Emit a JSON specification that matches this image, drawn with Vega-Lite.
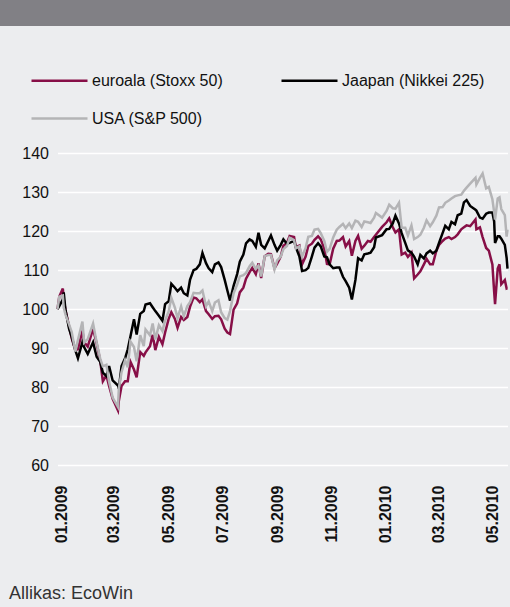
{
  "$schema": "https://vega.github.io/schema/vega-lite/v6.json",
  "width": 510,
  "height": 581,
  "autosize": {"type": "none"},
  "padding": {"left": 0, "top": 26, "right": 0, "bottom": 0},
  "background": "#818085",
  "config": {
    "view": {"fill": "#ecedef", "stroke": null},
    "font": "Liberation Sans"
  },
  "title": {
    "text": "Allikas: EcoWin",
    "orient": "bottom",
    "anchor": "start",
    "frame": "group",
    "offset": -8,
    "dx": 9,
    "fontSize": 18,
    "fontWeight": "normal",
    "color": "#333333",
    "baseline": "alphabetic"
  },
  "data": {
    "format": {"parse": {"d": "date:'%Y-%m-%d'"}},
    "values": [
{"d":"2008-12-31","s":"E","v":100},{"d":"2008-12-31","s":"J","v":100},{"d":"2008-12-31","s":"U","v":100},
{"d":"2009-01-02","s":"E","v":103.2},{"d":"2009-01-02","s":"J","v":100.8},{"d":"2009-01-02","s":"U","v":103.2},
{"d":"2009-01-06","s":"E","v":105.3},{"d":"2009-01-06","s":"J","v":102.5},{"d":"2009-01-06","s":"U","v":103.5},
{"d":"2009-01-07","s":"E","v":102.5},{"d":"2009-01-07","s":"J","v":104.3},{"d":"2009-01-07","s":"U","v":100.4},
{"d":"2009-01-09","s":"E","v":99.8},{"d":"2009-01-09","s":"J","v":99.7},{"d":"2009-01-09","s":"U","v":98.6},
{"d":"2009-01-13","s":"E","v":95.6},{"d":"2009-01-13","s":"J","v":95.0},{"d":"2009-01-13","s":"U","v":96.1},
{"d":"2009-01-16","s":"E","v":92.5},{"d":"2009-01-16","s":"J","v":92.9},{"d":"2009-01-16","s":"U","v":94.1},
{"d":"2009-01-20","s":"E","v":89.5},{"d":"2009-01-20","s":"J","v":89.5},{"d":"2009-01-20","s":"U","v":89.1},
{"d":"2009-01-23","s":"E","v":89.7},{"d":"2009-01-23","s":"J","v":87.4},{"d":"2009-01-23","s":"U","v":92.1},
{"d":"2009-01-28","s":"E","v":94.5},{"d":"2009-01-28","s":"J","v":91.5},{"d":"2009-01-28","s":"U","v":96.8},
{"d":"2009-01-30","s":"E","v":91.5},{"d":"2009-01-30","s":"J","v":90.2},{"d":"2009-01-30","s":"U","v":91.4},
{"d":"2009-02-03","s":"E","v":90.4},{"d":"2009-02-03","s":"J","v":88.5},{"d":"2009-02-03","s":"U","v":92.3},
{"d":"2009-02-09","s":"E","v":95.0},{"d":"2009-02-09","s":"J","v":91.5},{"d":"2009-02-09","s":"U","v":96.3},
{"d":"2009-02-13","s":"E","v":91.2},{"d":"2009-02-13","s":"J","v":87.8},{"d":"2009-02-13","s":"U","v":91.5},
{"d":"2009-02-17","s":"E","v":86.8},{"d":"2009-02-17","s":"J","v":86.5},{"d":"2009-02-17","s":"U","v":87.3},
{"d":"2009-02-20","s":"E","v":81.5},{"d":"2009-02-20","s":"J","v":83.7},{"d":"2009-02-20","s":"U","v":85.3},
{"d":"2009-02-24","s":"E","v":83.0},{"d":"2009-02-24","s":"J","v":82.8},{"d":"2009-02-24","s":"U","v":85.7},
{"d":"2009-02-27","s":"E","v":80.3},{"d":"2009-02-27","s":"J","v":85.4},{"d":"2009-02-27","s":"U","v":81.4},
{"d":"2009-03-03","s":"E","v":77.0},{"d":"2009-03-03","s":"J","v":81.7},{"d":"2009-03-03","s":"U","v":77.3},
{"d":"2009-03-09","s":"E","v":74.0},{"d":"2009-03-09","s":"J","v":80.4},{"d":"2009-03-09","s":"U","v":74.9},
{"d":"2009-03-10","s":"E","v":76.5},{"d":"2009-03-10","s":"J","v":79.6},{"d":"2009-03-10","s":"U","v":79.7},
{"d":"2009-03-13","s":"E","v":80.3},{"d":"2009-03-13","s":"J","v":85.4},{"d":"2009-03-13","s":"U","v":83.8},
{"d":"2009-03-17","s":"E","v":81.5},{"d":"2009-03-17","s":"J","v":87.4},{"d":"2009-03-17","s":"U","v":86.9},
{"d":"2009-03-20","s":"E","v":81.5},{"d":"2009-03-20","s":"J","v":89.7},{"d":"2009-03-20","s":"U","v":85.1},
{"d":"2009-03-23","s":"E","v":86.5},{"d":"2009-03-23","s":"J","v":93.0},{"d":"2009-03-23","s":"U","v":91.7},
{"d":"2009-03-27","s":"E","v":84.5},{"d":"2009-03-27","s":"J","v":97.4},{"d":"2009-03-27","s":"U","v":90.3},
{"d":"2009-03-30","s":"E","v":82.5},{"d":"2009-03-30","s":"J","v":93.5},{"d":"2009-03-30","s":"U","v":86.6},
{"d":"2009-04-03","s":"E","v":89.0},{"d":"2009-04-03","s":"J","v":98.8},{"d":"2009-04-03","s":"U","v":93.3},
{"d":"2009-04-07","s":"E","v":88.0},{"d":"2009-04-07","s":"J","v":99.5},{"d":"2009-04-07","s":"U","v":90.5},
{"d":"2009-04-09","s":"E","v":88.9},{"d":"2009-04-09","s":"J","v":101.2},{"d":"2009-04-09","s":"U","v":94.8},
{"d":"2009-04-14","s":"E","v":90.5},{"d":"2009-04-14","s":"J","v":101.5},{"d":"2009-04-14","s":"U","v":93.3},
{"d":"2009-04-17","s":"E","v":93.4},{"d":"2009-04-17","s":"J","v":100.5},{"d":"2009-04-17","s":"U","v":96.3},
{"d":"2009-04-20","s":"E","v":89.5},{"d":"2009-04-20","s":"J","v":99.5},{"d":"2009-04-20","s":"U","v":92.2},
{"d":"2009-04-24","s":"E","v":92.9},{"d":"2009-04-24","s":"J","v":98.3},{"d":"2009-04-24","s":"U","v":95.9},
{"d":"2009-04-28","s":"E","v":91.0},{"d":"2009-04-28","s":"J","v":97.0},{"d":"2009-04-28","s":"U","v":94.4},
{"d":"2009-05-01","s":"E","v":94.0},{"d":"2009-05-01","s":"J","v":101.3},{"d":"2009-05-01","s":"U","v":97.1},
{"d":"2009-05-05","s":"E","v":97.5},{"d":"2009-05-05","s":"J","v":102.0},{"d":"2009-05-05","s":"U","v":99.4},
{"d":"2009-05-08","s":"E","v":99.2},{"d":"2009-05-08","s":"J","v":106.5},{"d":"2009-05-08","s":"U","v":102.9},
{"d":"2009-05-12","s":"E","v":97.5},{"d":"2009-05-12","s":"J","v":105.5},{"d":"2009-05-12","s":"U","v":100.4},
{"d":"2009-05-15","s":"E","v":95.2},{"d":"2009-05-15","s":"J","v":104.6},{"d":"2009-05-15","s":"U","v":97.7},
{"d":"2009-05-19","s":"E","v":98.0},{"d":"2009-05-19","s":"J","v":105.5},{"d":"2009-05-19","s":"U","v":100.7},
{"d":"2009-05-22","s":"E","v":97.2},{"d":"2009-05-22","s":"J","v":104.1},{"d":"2009-05-22","s":"U","v":98.2},
{"d":"2009-05-26","s":"E","v":98.0},{"d":"2009-05-26","s":"J","v":103.5},{"d":"2009-05-26","s":"U","v":100.8},
{"d":"2009-05-29","s":"E","v":100.6},{"d":"2009-05-29","s":"J","v":107.5},{"d":"2009-05-29","s":"U","v":101.8},
{"d":"2009-06-02","s":"E","v":103.0},{"d":"2009-06-02","s":"J","v":110.0},{"d":"2009-06-02","s":"U","v":104.2},
{"d":"2009-06-05","s":"E","v":102.8},{"d":"2009-06-05","s":"J","v":110.3},{"d":"2009-06-05","s":"U","v":104.1},
{"d":"2009-06-09","s":"E","v":101.8},{"d":"2009-06-09","s":"J","v":111.5},{"d":"2009-06-09","s":"U","v":104.1},
{"d":"2009-06-12","s":"E","v":102.5},{"d":"2009-06-12","s":"J","v":114.4},{"d":"2009-06-12","s":"U","v":104.8},
{"d":"2009-06-16","s":"E","v":99.5},{"d":"2009-06-16","s":"J","v":111.8},{"d":"2009-06-16","s":"U","v":100.8},
{"d":"2009-06-19","s":"E","v":98.7},{"d":"2009-06-19","s":"J","v":110.5},{"d":"2009-06-19","s":"U","v":102.0},
{"d":"2009-06-23","s":"E","v":97.5},{"d":"2009-06-23","s":"J","v":109.5},{"d":"2009-06-23","s":"U","v":99.5},
{"d":"2009-06-26","s":"E","v":98.2},{"d":"2009-06-26","s":"J","v":111.5},{"d":"2009-06-26","s":"U","v":101.7},
{"d":"2009-06-30","s":"E","v":98.3},{"d":"2009-06-30","s":"J","v":112.0},{"d":"2009-06-30","s":"U","v":102.3},
{"d":"2009-07-03","s":"E","v":97.4},{"d":"2009-07-03","s":"J","v":110.8},{"d":"2009-07-03","s":"U","v":99.2},
{"d":"2009-07-07","s":"E","v":95.0},{"d":"2009-07-07","s":"J","v":107.5},{"d":"2009-07-07","s":"U","v":97.7},
{"d":"2009-07-10","s":"E","v":94.0},{"d":"2009-07-10","s":"J","v":104.8},{"d":"2009-07-10","s":"U","v":97.3},
{"d":"2009-07-13","s":"E","v":93.6},{"d":"2009-07-13","s":"J","v":102.2},{"d":"2009-07-13","s":"U","v":99.5},
{"d":"2009-07-17","s":"E","v":99.9},{"d":"2009-07-17","s":"J","v":106.0},{"d":"2009-07-17","s":"U","v":104.1},
{"d":"2009-07-21","s":"E","v":101.5},{"d":"2009-07-21","s":"J","v":109.0},{"d":"2009-07-21","s":"U","v":106.3},
{"d":"2009-07-24","s":"E","v":104.3},{"d":"2009-07-24","s":"J","v":112.2},{"d":"2009-07-24","s":"U","v":108.4},
{"d":"2009-07-28","s":"E","v":105.5},{"d":"2009-07-28","s":"J","v":114.0},{"d":"2009-07-28","s":"U","v":108.7},
{"d":"2009-07-31","s":"E","v":107.8},{"d":"2009-07-31","s":"J","v":116.9},{"d":"2009-07-31","s":"U","v":109.3},
{"d":"2009-08-04","s":"E","v":109.5},{"d":"2009-08-04","s":"J","v":117.9},{"d":"2009-08-04","s":"U","v":111.0},
{"d":"2009-08-07","s":"E","v":110.6},{"d":"2009-08-07","s":"J","v":117.5},{"d":"2009-08-07","s":"U","v":111.9},
{"d":"2009-08-11","s":"E","v":109.0},{"d":"2009-08-11","s":"J","v":116.0},{"d":"2009-08-11","s":"U","v":110.3},
{"d":"2009-08-14","s":"E","v":111.8},{"d":"2009-08-14","s":"J","v":119.6},{"d":"2009-08-14","s":"U","v":111.2},
{"d":"2009-08-17","s":"E","v":108.0},{"d":"2009-08-17","s":"J","v":116.5},{"d":"2009-08-17","s":"U","v":108.4},
{"d":"2009-08-21","s":"E","v":113.6},{"d":"2009-08-21","s":"J","v":115.6},{"d":"2009-08-21","s":"U","v":113.6},
{"d":"2009-08-25","s":"E","v":114.2},{"d":"2009-08-25","s":"J","v":117.5},{"d":"2009-08-25","s":"U","v":113.9},
{"d":"2009-08-28","s":"E","v":114.1},{"d":"2009-08-28","s":"J","v":118.9},{"d":"2009-08-28","s":"U","v":113.9},
{"d":"2009-09-01","s":"E","v":110.5},{"d":"2009-09-01","s":"J","v":116.5},{"d":"2009-09-01","s":"U","v":110.2},
{"d":"2009-09-04","s":"E","v":111.7},{"d":"2009-09-04","s":"J","v":115.0},{"d":"2009-09-04","s":"U","v":112.5},
{"d":"2009-09-08","s":"E","v":113.5},{"d":"2009-09-08","s":"J","v":116.5},{"d":"2009-09-08","s":"U","v":113.5},
{"d":"2009-09-11","s":"E","v":116.3},{"d":"2009-09-11","s":"J","v":117.9},{"d":"2009-09-11","s":"U","v":115.4},
{"d":"2009-09-15","s":"E","v":117.0},{"d":"2009-09-15","s":"J","v":116.8},{"d":"2009-09-15","s":"U","v":116.2},
{"d":"2009-09-18","s":"E","v":118.8},{"d":"2009-09-18","s":"J","v":117.0},{"d":"2009-09-18","s":"U","v":118.3},
{"d":"2009-09-23","s":"E","v":118.5},{"d":"2009-09-23","s":"J","v":117.5},{"d":"2009-09-23","s":"U","v":117.7},
{"d":"2009-09-25","s":"E","v":115.9},{"d":"2009-09-25","s":"J","v":115.9},{"d":"2009-09-25","s":"U","v":115.6},
{"d":"2009-09-29","s":"E","v":116.3},{"d":"2009-09-29","s":"J","v":113.5},{"d":"2009-09-29","s":"U","v":116.1},
{"d":"2009-10-02","s":"E","v":111.5},{"d":"2009-10-02","s":"J","v":109.8},{"d":"2009-10-02","s":"U","v":113.5},
{"d":"2009-10-06","s":"E","v":113.5},{"d":"2009-10-06","s":"J","v":110.0},{"d":"2009-10-06","s":"U","v":115.7},
{"d":"2009-10-09","s":"E","v":116.2},{"d":"2009-10-09","s":"J","v":110.6},{"d":"2009-10-09","s":"U","v":118.6},
{"d":"2009-10-13","s":"E","v":116.8},{"d":"2009-10-13","s":"J","v":113.5},{"d":"2009-10-13","s":"U","v":118.8},
{"d":"2009-10-16","s":"E","v":117.8},{"d":"2009-10-16","s":"J","v":115.8},{"d":"2009-10-16","s":"U","v":120.4},
{"d":"2009-10-20","s":"E","v":118.7},{"d":"2009-10-20","s":"J","v":116.9},{"d":"2009-10-20","s":"U","v":120.6},
{"d":"2009-10-23","s":"E","v":117.9},{"d":"2009-10-23","s":"J","v":116.1},{"d":"2009-10-23","s":"U","v":119.5},
{"d":"2009-10-27","s":"E","v":115.5},{"d":"2009-10-27","s":"J","v":113.5},{"d":"2009-10-27","s":"U","v":117.5},
{"d":"2009-10-30","s":"E","v":111.6},{"d":"2009-10-30","s":"J","v":113.3},{"d":"2009-10-30","s":"U","v":114.7},
{"d":"2009-11-02","s":"E","v":111.5},{"d":"2009-11-02","s":"J","v":111.5},{"d":"2009-11-02","s":"U","v":115.5},
{"d":"2009-11-06","s":"E","v":115.5},{"d":"2009-11-06","s":"J","v":110.5},{"d":"2009-11-06","s":"U","v":118.4},
{"d":"2009-11-10","s":"E","v":117.5},{"d":"2009-11-10","s":"J","v":110.7},{"d":"2009-11-10","s":"U","v":120.4},
{"d":"2009-11-13","s":"E","v":117.6},{"d":"2009-11-13","s":"J","v":110.7},{"d":"2009-11-13","s":"U","v":121.1},
{"d":"2009-11-17","s":"E","v":118.5},{"d":"2009-11-17","s":"J","v":108.3},{"d":"2009-11-17","s":"U","v":121.9},
{"d":"2009-11-20","s":"E","v":116.1},{"d":"2009-11-20","s":"J","v":107.2},{"d":"2009-11-20","s":"U","v":120.8},
{"d":"2009-11-24","s":"E","v":117.5},{"d":"2009-11-24","s":"J","v":105.5},{"d":"2009-11-24","s":"U","v":122.0},
{"d":"2009-11-27","s":"E","v":113.7},{"d":"2009-11-27","s":"J","v":102.5},{"d":"2009-11-27","s":"U","v":120.8},
{"d":"2009-12-01","s":"E","v":117.5},{"d":"2009-12-01","s":"J","v":107.5},{"d":"2009-12-01","s":"U","v":122.7},
{"d":"2009-12-04","s":"E","v":118.8},{"d":"2009-12-04","s":"J","v":113.1},{"d":"2009-12-04","s":"U","v":122.4},
{"d":"2009-12-08","s":"E","v":115.5},{"d":"2009-12-08","s":"J","v":112.5},{"d":"2009-12-08","s":"U","v":121.1},
{"d":"2009-12-11","s":"E","v":116.3},{"d":"2009-12-11","s":"J","v":114.1},{"d":"2009-12-11","s":"U","v":122.5},
{"d":"2009-12-15","s":"E","v":117.5},{"d":"2009-12-15","s":"J","v":114.3},{"d":"2009-12-15","s":"U","v":122.3},
{"d":"2009-12-18","s":"E","v":117.3},{"d":"2009-12-18","s":"J","v":114.5},{"d":"2009-12-18","s":"U","v":122.1},
{"d":"2009-12-22","s":"E","v":118.5},{"d":"2009-12-22","s":"J","v":115.9},{"d":"2009-12-22","s":"U","v":123.5},
{"d":"2009-12-24","s":"E","v":119.1},{"d":"2009-12-24","s":"J","v":118.4},{"d":"2009-12-24","s":"U","v":124.7},
{"d":"2009-12-31","s":"E","v":121.1},{"d":"2009-12-31","s":"J","v":119.0},{"d":"2009-12-31","s":"U","v":123.5},
{"d":"2010-01-05","s":"E","v":122.3},{"d":"2010-01-05","s":"J","v":120.5},{"d":"2010-01-05","s":"U","v":125.2},
{"d":"2010-01-08","s":"E","v":123.3},{"d":"2010-01-08","s":"J","v":120.6},{"d":"2010-01-08","s":"U","v":126.8},
{"d":"2010-01-12","s":"E","v":121.0},{"d":"2010-01-12","s":"J","v":122.0},{"d":"2010-01-12","s":"U","v":125.9},
{"d":"2010-01-15","s":"E","v":119.7},{"d":"2010-01-15","s":"J","v":124.0},{"d":"2010-01-15","s":"U","v":125.8},
{"d":"2010-01-19","s":"E","v":120.5},{"d":"2010-01-19","s":"J","v":122.0},{"d":"2010-01-19","s":"U","v":127.3},
{"d":"2010-01-22","s":"E","v":114.0},{"d":"2010-01-22","s":"J","v":119.5},{"d":"2010-01-22","s":"U","v":120.9},
{"d":"2010-01-26","s":"E","v":114.5},{"d":"2010-01-26","s":"J","v":117.0},{"d":"2010-01-26","s":"U","v":120.9},
{"d":"2010-01-29","s":"E","v":113.4},{"d":"2010-01-29","s":"J","v":115.1},{"d":"2010-01-29","s":"U","v":118.9},
{"d":"2010-02-02","s":"E","v":114.5},{"d":"2010-02-02","s":"J","v":114.5},{"d":"2010-02-02","s":"U","v":121.5},
{"d":"2010-02-05","s":"E","v":107.9},{"d":"2010-02-05","s":"J","v":113.5},{"d":"2010-02-05","s":"U","v":118.0},
{"d":"2010-02-09","s":"E","v":108.9},{"d":"2010-02-09","s":"J","v":111.5},{"d":"2010-02-09","s":"U","v":118.5},
{"d":"2010-02-12","s":"E","v":109.7},{"d":"2010-02-12","s":"J","v":113.9},{"d":"2010-02-12","s":"U","v":119.1},
{"d":"2010-02-16","s":"E","v":111.5},{"d":"2010-02-16","s":"J","v":113.0},{"d":"2010-02-16","s":"U","v":120.9},
{"d":"2010-02-19","s":"E","v":112.9},{"d":"2010-02-19","s":"J","v":114.3},{"d":"2010-02-19","s":"U","v":122.8},
{"d":"2010-02-23","s":"E","v":111.5},{"d":"2010-02-23","s":"J","v":115.0},{"d":"2010-02-23","s":"U","v":121.3},
{"d":"2010-02-26","s":"E","v":111.5},{"d":"2010-02-26","s":"J","v":114.3},{"d":"2010-02-26","s":"U","v":122.3},
{"d":"2010-03-02","s":"E","v":115.0},{"d":"2010-03-02","s":"J","v":115.0},{"d":"2010-03-02","s":"U","v":124.0},
{"d":"2010-03-05","s":"E","v":116.5},{"d":"2010-03-05","s":"J","v":117.0},{"d":"2010-03-05","s":"U","v":126.1},
{"d":"2010-03-09","s":"E","v":117.5},{"d":"2010-03-09","s":"J","v":119.5},{"d":"2010-03-09","s":"U","v":126.2},
{"d":"2010-03-12","s":"E","v":118.1},{"d":"2010-03-12","s":"J","v":121.4},{"d":"2010-03-12","s":"U","v":127.3},
{"d":"2010-03-16","s":"E","v":118.5},{"d":"2010-03-16","s":"J","v":120.5},{"d":"2010-03-16","s":"U","v":127.9},
{"d":"2010-03-19","s":"E","v":118.0},{"d":"2010-03-19","s":"J","v":122.4},{"d":"2010-03-19","s":"U","v":128.4},
{"d":"2010-03-23","s":"E","v":118.5},{"d":"2010-03-23","s":"J","v":121.8},{"d":"2010-03-23","s":"U","v":129.0},
{"d":"2010-03-26","s":"E","v":119.2},{"d":"2010-03-26","s":"J","v":124.1},{"d":"2010-03-26","s":"U","v":129.2},
{"d":"2010-03-30","s":"E","v":120.5},{"d":"2010-03-30","s":"J","v":124.5},{"d":"2010-03-30","s":"U","v":129.4},
{"d":"2010-04-02","s":"E","v":121.0},{"d":"2010-04-02","s":"J","v":127.4},{"d":"2010-04-02","s":"U","v":130.4},
{"d":"2010-04-05","s":"E","v":121.5},{"d":"2010-04-05","s":"J","v":128.0},{"d":"2010-04-05","s":"U","v":131.2},
{"d":"2010-04-09","s":"E","v":121.3},{"d":"2010-04-09","s":"J","v":126.5},{"d":"2010-04-09","s":"U","v":132.2},
{"d":"2010-04-15","s":"E","v":123.0},{"d":"2010-04-15","s":"J","v":125.5},{"d":"2010-04-15","s":"U","v":133.7},
{"d":"2010-04-16","s":"E","v":120.5},{"d":"2010-04-16","s":"J","v":125.3},{"d":"2010-04-16","s":"U","v":132.0},
{"d":"2010-04-20","s":"E","v":121.0},{"d":"2010-04-20","s":"J","v":123.5},{"d":"2010-04-20","s":"U","v":133.7},
{"d":"2010-04-23","s":"E","v":118.5},{"d":"2010-04-23","s":"J","v":123.2},{"d":"2010-04-23","s":"U","v":134.8},
{"d":"2010-04-27","s":"E","v":115.7},{"d":"2010-04-27","s":"J","v":124.5},{"d":"2010-04-27","s":"U","v":131.0},
{"d":"2010-04-30","s":"E","v":115.0},{"d":"2010-04-30","s":"J","v":124.8},{"d":"2010-04-30","s":"U","v":131.4},
{"d":"2010-05-04","s":"E","v":111.5},{"d":"2010-05-04","s":"J","v":124.8},{"d":"2010-05-04","s":"U","v":128.2},
{"d":"2010-05-06","s":"E","v":104.5},{"d":"2010-05-06","s":"J","v":122.5},{"d":"2010-05-06","s":"U","v":124.9},
{"d":"2010-05-07","s":"E","v":101.3},{"d":"2010-05-07","s":"J","v":117.0},{"d":"2010-05-07","s":"U","v":123.0},
{"d":"2010-05-10","s":"E","v":110.4},{"d":"2010-05-10","s":"J","v":118.7},{"d":"2010-05-10","s":"U","v":128.4},
{"d":"2010-05-12","s":"E","v":111.5},{"d":"2010-05-12","s":"J","v":118.7},{"d":"2010-05-12","s":"U","v":128.7},
{"d":"2010-05-14","s":"E","v":106.4},{"d":"2010-05-14","s":"J","v":118.1},{"d":"2010-05-14","s":"U","v":125.7},
{"d":"2010-05-18","s":"E","v":107.5},{"d":"2010-05-18","s":"J","v":116.5},{"d":"2010-05-18","s":"U","v":124.1},
{"d":"2010-05-20","s":"E","v":105.3},{"d":"2010-05-20","s":"J","v":113.2},{"d":"2010-05-20","s":"U","v":118.6},
{"d":"2010-05-21","s":"E","v":105.4},{"d":"2010-05-21","s":"J","v":110.4},{"d":"2010-05-21","s":"U","v":120.4}
    ]
  },
  "mark": {"type": "line", "strokeWidth": 2.5},
  "encoding": {
    "x": {
      "field": "d",
      "type": "temporal",
      "scale": {"range": [57.5, 507.5]},
      "axis": {
        "orient": "bottom",
        "offset": -142,
        "values": [
          {"year": 2009, "month": 1, "date": 1},
          {"year": 2009, "month": 3, "date": 1},
          {"year": 2009, "month": 5, "date": 1},
          {"year": 2009, "month": 7, "date": 1},
          {"year": 2009, "month": 9, "date": 1},
          {"year": 2009, "month": 11, "date": 1},
          {"year": 2010, "month": 1, "date": 1},
          {"year": 2010, "month": 3, "date": 1},
          {"year": 2010, "month": 5, "date": 1}
        ],
        "format": "%m.%Y",
        "labelAngle": -90,
        "labelFontSize": 16,
        "labelFontWeight": "bold",
        "labelColor": "#111111",
        "labelPadding": 20,
        "labelOffset": 3,
        "ticks": false,
        "tickSize": 0,
        "domain": false,
        "grid": false,
        "title": null,
        "labelFlush": false,
        "labelOverlap": false,
        "labelBound": false
      }
    },
    "y": {
      "field": "v",
      "type": "quantitative",
      "scale": {"domain": [60, 140], "range": [439, 127.3], "nice": false, "zero": false},
      "axis": {
        "offset": -58,
        "values": [60, 70, 80, 90, 100, 110, 120, 130, 140],
        "labelFontSize": 16,
        "labelColor": "#111111",
        "labelPadding": 9.5,
        "ticks": false,
        "tickSize": 0,
        "domain": false,
        "grid": true,
        "gridColor": "#ffffff",
        "gridWidth": 1.5,
        "gridOpacity": 1,
        "title": null
      }
    },
    "color": {
      "field": "s",
      "type": "nominal",
      "scale": {"domain": ["E", "J", "U"], "range": ["#870f47", "#000000", "#b4b4b6"]},
      "legend": {
        "orient": "none",
        "direction": "horizontal",
        "legendX": 30,
        "legendY": 25,
        "title": null,
        "columns": 2,
        "symbolType": "stroke",
        "symbolSize": 3136,
        "symbolStrokeWidth": 2.5,
        "labelFontSize": 16,
        "labelColor": "#111111",
        "labelOffset": 3,
        "labelLimit": 300,
        "columnPadding": 53,
        "rowPadding": -23,
        "padding": 0,
        "labelExpr": "datum.label == 'E' ? 'euroala (Stoxx 50)' : datum.label == 'J' ? 'Jaapan (Nikkei 225)' : 'USA (S&P 500)'"
      }
    }
  }
}
